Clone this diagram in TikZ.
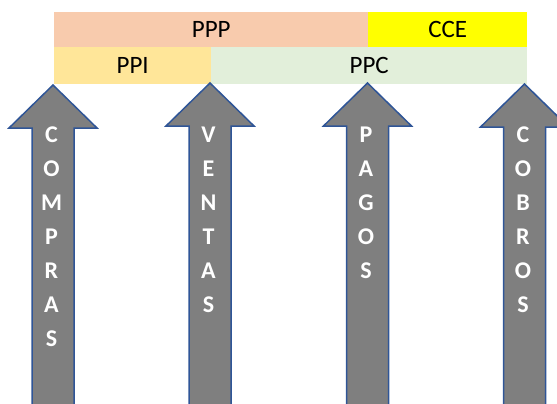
\documentclass[tikz,border=0pt]{standalone}
\usepackage{fontspec}
\setmainfont{Carlito}
\definecolor{cppp}{HTML}{F8CBAD}
\definecolor{ccce}{HTML}{FFFF00}
\definecolor{cppi}{HTML}{FFE699}
\definecolor{cppc}{HTML}{E2EFDA}
\definecolor{arrfill}{HTML}{7F7F7F}
\definecolor{arrline}{HTML}{2F5597}
\tikzset{
  bar/.style={draw=none, inner sep=0pt, anchor=north west, font=\fontsize{25}{30}\selectfont, text=black},
  arrowshape/.style={fill=arrfill, draw=arrline, line width=1.5pt, line join=miter},
  letter/.style={inner sep=0pt, anchor=base, text=white, font=\fontsize{24}{28}\selectfont\bfseries}
}
\begin{document}
\begin{tikzpicture}[x=1pt,y=-1pt]
\useasboundingbox (0,0) rectangle (557,404);
\clip (0,0) rectangle (557,404);
% bars
\node[bar, fill=cppp, minimum width=314pt, minimum height=35pt] (ppp) at (54,12) {PPP};
\node[bar, fill=ccce, minimum width=159pt, minimum height=35pt] (cce) at (368,12) {CCE};
\node[bar, fill=cppi, minimum width=157pt, minimum height=37pt] (ppi) at (54,47) {PPI};
\node[bar, fill=cppc, minimum width=316pt, minimum height=37pt] (ppc) at (211,47) {PPC};
% arrows
\foreach \cx/\tip/\nm/\word in {53/85/a/{C,O,M,P,R,A,S}, 210/83/b/{V,E,N,T,A,S}, 367.5/83/c/{P,A,G,O,S}, 524.5/84/d/{C,O,B,R,O,S}}{
  \draw[arrowshape] (\cx,\tip) -- (\cx+44,\tip+43) -- (\cx+21,\tip+43) -- (\cx+21,420)
     -- (\cx-21,420) -- (\cx-21,\tip+43) -- (\cx-44,\tip+43) -- cycle;
  \foreach \l [count=\i] in \word {
    \node[letter] (\nm\i) at (\cx-1.5, 142+\i*34-34) {\l};
  }
}
\end{tikzpicture}
\end{document}
